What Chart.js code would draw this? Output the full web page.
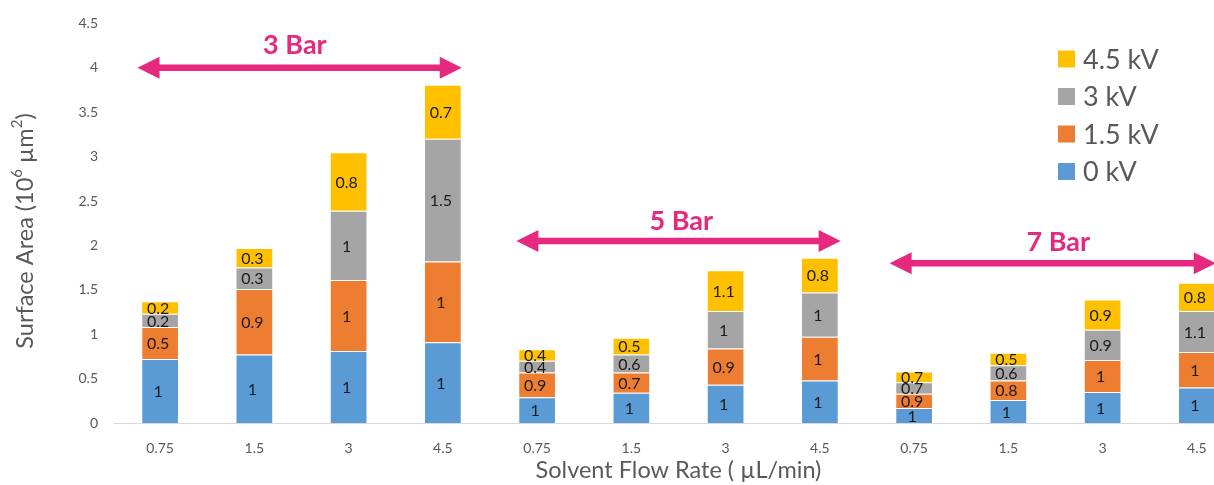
<!DOCTYPE html>
<html>
<head>
<meta charset="utf-8">
<script src="https://cdn.jsdelivr.net/npm/chart.js@4/dist/chart.umd.min.js"></script>
<style>
  html, body { margin: 0; padding: 0; background: #fff; overflow: hidden; }
  #wrap { position: relative; width: 1260px; height: 485px; }
</style>
</head>
<body>
<div id="wrap"><canvas id="chart"></canvas></div>
<script>
// Flow rates (µL/min), repeated for each pressure group
const flowRates = ['0.75', '1.5', '3', '4.5', '0.75', '1.5', '3', '4.5', '0.75', '1.5', '3', '4.5'];

// Segment heights per voltage (10^6 µm²)
const area0kV   = [0.72, 0.77, 0.81, 0.91, 0.29, 0.34, 0.43, 0.48, 0.17, 0.26, 0.35, 0.40];
const area15kV  = [0.36, 0.74, 0.80, 0.91, 0.28, 0.23, 0.41, 0.49, 0.16, 0.22, 0.36, 0.40];
const area3kV   = [0.15, 0.24, 0.78, 1.38, 0.13, 0.20, 0.42, 0.50, 0.13, 0.17, 0.34, 0.46];
const area45kV  = [0.14, 0.22, 0.66, 0.61, 0.13, 0.19, 0.46, 0.39, 0.12, 0.14, 0.34, 0.32];

// Ratio labels written inside each segment
const ratio0kV  = ['1', '1', '1', '1', '1', '1', '1', '1', '1', '1', '1', '1'];
const ratio15kV = ['0.5', '0.9', '1', '1', '0.9', '0.7', '0.9', '1', '0.9', '0.8', '1', '1'];
const ratio3kV  = ['0.2', '0.3', '1', '1.5', '0.4', '0.6', '1', '1', '0.7', '0.6', '0.9', '1.1'];
const ratio45kV = ['0.2', '0.3', '0.8', '0.7', '0.4', '0.5', '1.1', '0.8', '0.7', '0.5', '0.9', '0.8'];

// Pressure groups: arrow span in category units, arrow height and caption
const pressureGroups = [
  { text: '3 Bar', from: -0.24, to: 3.20, y: 4.00, textX: 1.43, textY: 4.25 },
  { text: '5 Bar', from: 3.78, to: 7.22, y: 2.05, textX: 5.53, textY: 2.27 },
  { text: '7 Bar', from: 7.74, to: 11.2, y: 1.80, textX: 9.53, textY: 2.04 }
];

const yTicks = [0, 0.5, 1, 1.5, 2, 2.5, 3, 3.5, 4, 4.5];

const FONT = 'Lato, "Open Sans", sans-serif';
const GREY_TEXT = '#595959';
const PINK = '#E6287F';

const series = [
  { label: '0 kV',   data: area0kV,  labels: ratio0kV,  color: '#5B9BD5' },
  { label: '1.5 kV', data: area15kV, labels: ratio15kV, color: '#ED7D31' },
  { label: '3 kV',   data: area3kV,  labels: ratio3kV,  color: '#A5A5A5' },
  { label: '4.5 kV', data: area45kV, labels: ratio45kV, color: '#FFC000' }
];

// Text inside every stacked segment
const segmentLabels = {
  id: 'segmentLabels',
  afterDatasetsDraw(chart) {
    const ctx = chart.ctx;
    ctx.save();
    ctx.font = '16px ' + FONT;
    ctx.fillStyle = '#1a1a1a';
    ctx.textAlign = 'center';
    ctx.textBaseline = 'middle';
    chart.data.datasets.forEach((ds, di) => {
      const meta = chart.getDatasetMeta(di);
      meta.data.forEach((bar, i) => {
        const yMid = (bar.y + bar.base) / 2;
        ctx.fillText(series[di].labels[i], bar.x - 2, yMid + 1);
      });
    });
    ctx.restore();
  }
};

// Double-headed arrows with pressure captions
const pressureArrows = {
  id: 'pressureArrows',
  afterDraw(chart) {
    const ctx = chart.ctx;
    const xs = chart.scales.x, ys = chart.scales.y;
    ctx.save();
    ctx.fillStyle = PINK;
    ctx.strokeStyle = PINK;
    pressureGroups.forEach(g => {
      const x1 = xs.getPixelForValue(g.from);
      const x2 = xs.getPixelForValue(g.to);
      const y = ys.getPixelForValue(g.y);
      const head = 22, half = 11;
      ctx.lineWidth = 6.5;
      ctx.beginPath();
      ctx.moveTo(x1 + head - 2, y);
      ctx.lineTo(x2 - head + 2, y);
      ctx.stroke();
      ctx.beginPath();
      ctx.moveTo(x1, y);
      ctx.lineTo(x1 + head, y - half);
      ctx.lineTo(x1 + head, y + half);
      ctx.closePath();
      ctx.fill();
      ctx.beginPath();
      ctx.moveTo(x2, y);
      ctx.lineTo(x2 - head, y - half);
      ctx.lineTo(x2 - head, y + half);
      ctx.closePath();
      ctx.fill();

      ctx.font = 'bold 27px ' + FONT;
      ctx.textAlign = 'center';
      ctx.textBaseline = 'middle';
      ctx.fillText(g.text, xs.getPixelForValue(g.textX), ys.getPixelForValue(g.textY));
    });
    ctx.restore();
  }
};

// Draws a run of [text, isSuperscript] pieces centred on 0,0
function drawRichText(ctx, parts, size) {
  const widths = parts.map(([t, sup]) => {
    ctx.font = (sup ? Math.round(size * 0.62) : size) + 'px ' + FONT;
    return ctx.measureText(t).width;
  });
  let x = -widths.reduce((a, b) => a + b, 0) / 2;
  ctx.textAlign = 'left';
  parts.forEach(([t, sup], k) => {
    ctx.font = (sup ? Math.round(size * 0.62) : size) + 'px ' + FONT;
    ctx.fillText(t, x, sup ? -size * 0.35 : 0);
    x += widths[k];
  });
}

// Legend (top voltage first) and axis titles
const chartDecor = {
  id: 'chartDecor',
  afterDraw(chart) {
    const ctx = chart.ctx;
    const area = chart.chartArea;
    ctx.save();

    const lx = 1058, ly = 59, step = 37.5, box = 17;
    ctx.font = '27px ' + FONT;
    ctx.textBaseline = 'middle';
    ctx.textAlign = 'left';
    series.slice().reverse().forEach((s, k) => {
      const cy = ly + k * step;
      ctx.fillStyle = s.color;
      ctx.fillRect(lx, cy - box / 2, box, box);
      ctx.fillStyle = GREY_TEXT;
      ctx.fillText(s.label, lx + 25, cy + 1);
    });

    ctx.fillStyle = GREY_TEXT;
    ctx.font = '23.5px ' + FONT;
    ctx.textAlign = 'center';
    ctx.fillText('Solvent Flow Rate ( µL/min)', (area.left + area.right) / 2, 470);

    ctx.translate(25, 231);
    ctx.rotate(-Math.PI / 2);
    drawRichText(ctx, [['Surface Area (10', false], ['6', true], [' µm', false], ['2', true], [')', false]], 23.5);
    ctx.restore();
  }
};

const ctx = document.getElementById('chart').getContext('2d');
new Chart(ctx, {
  type: 'bar',
  data: {
    labels: flowRates,
    datasets: series.map(s => ({
      label: s.label,
      data: s.data,
      backgroundColor: s.color,
      borderColor: 'rgba(255,255,255,0.2)',
      borderWidth: 1,
      categoryPercentage: 1,
      barPercentage: 0.4
    }))
  },
  options: {
    responsive: true,
    maintainAspectRatio: false,
    animation: false,
    layout: { padding: { top: 20, right: 16, left: 0, bottom: 0 } },
    plugins: {
      legend: { display: false },
      tooltip: { enabled: false }
    },
    scales: {
      x: {
        stacked: true,
        grid: { display: false },
        border: { display: true, color: '#D9D9D9', width: 1 },
        ticks: { color: GREY_TEXT, font: { family: FONT, size: 14 }, padding: 9, maxRotation: 0, autoSkip: false },
        afterFit(scale) { scale.height = 62; }
      },
      y: {
        stacked: true,
        min: 0,
        max: 4.5,
        afterBuildTicks(scale) { scale.ticks = yTicks.map(v => ({ value: v })); },
        grid: { display: false, drawTicks: false },
        border: { display: false },
        ticks: {
          color: GREY_TEXT,
          font: { family: FONT, size: 14 },
          padding: 15,
          callback: v => String(v)
        },
        afterFit(scale) { scale.width = 113; }
      }
    }
  },
  plugins: [segmentLabels, pressureArrows, chartDecor]
});
</script>
</body>
</html>
